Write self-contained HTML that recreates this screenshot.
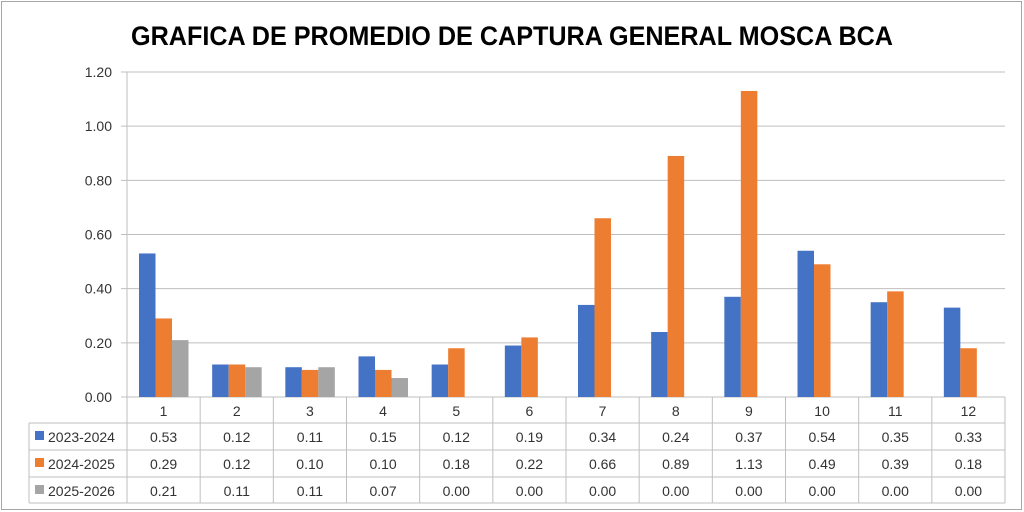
<!DOCTYPE html>
<html><head><meta charset="utf-8"><style>
html,body{margin:0;padding:0;background:#fff}
svg{display:block;font-family:"Liberation Sans",sans-serif}
</style></head><body>
<svg id="c" width="1024" height="512" xmlns="http://www.w3.org/2000/svg"></svg>
<script>
const d=[[0.53,0.12,0.11,0.15,0.12,0.19,0.34,0.24,0.37,0.54,0.35,0.33],
[0.29,0.12,0.10,0.10,0.18,0.22,0.66,0.89,1.13,0.49,0.39,0.18],
[0.21,0.11,0.11,0.07,0,0,0,0,0,0,0,0]];
const cols=['#4472C4','#ED7D31','#A5A5A5'],names=['2023-2024','2024-2025','2025-2026'];
const L=127,R=1005,T=72,B=397,cw=(R-L)/12,sc=(B-T)/1.2;
let s='<rect x="1.5" y="1.5" width="1020" height="508" fill="#fff" stroke="#a6a6a6"/>';
s+='<text x="131" y="45" font-size="27" font-weight="bold" textLength="762" lengthAdjust="spacingAndGlyphs">GRAFICA DE PROMEDIO DE CAPTURA GENERAL MOSCA BCA</text>';
for(let i=0;i<=6;i++){const y=B-i*0.2*sc;
 s+=`<line x1="${L-6}" x2="${R}" y1="${y}" y2="${y}" stroke="#bfbfbf"/>`;
 s+=`<text x="112" y="${y+5}" font-size="14" text-anchor="end" fill="#333">${(i*0.2).toFixed(2)}</text>`;}
for(let c=0;c<12;c++){const g=L+c*cw+12;
 for(let k=0;k<3;k++){const v=d[k][c];if(!v)continue;const h=v*sc;
  s+=`<rect x="${g+k*16.5}" y="${B-h}" width="16.5" height="${h}" fill="${cols[k]}"/>`;}}
// table
const rows=[423,450,477,503];
s+=`<line x1="${L}" x2="${L}" y1="${T}" y2="${B}" stroke="#bfbfbf"/>`;
for(let c=0;c<=12;c++){const x=L+c*cw;s+=`<line x1="${x}" x2="${x}" y1="${B}" y2="503" stroke="#bfbfbf"/>`;}
s+=`<line x1="29" x2="29" y1="423" y2="503" stroke="#bfbfbf"/>`;
rows.forEach(y=>s+=`<line x1="29" x2="${R}" y1="${y}" y2="${y}" stroke="#bfbfbf"/>`);
for(let c=0;c<12;c++){const x=L+c*cw+cw/2;
 s+=`<text x="${x}" y="416" font-size="14" text-anchor="middle" fill="#333">${c+1}</text>`;
 for(let k=0;k<3;k++)s+=`<text x="${x}" y="${rows[k]+19}" font-size="14" text-anchor="middle" fill="#333">${d[k][c].toFixed(2)}</text>`;}
for(let k=0;k<3;k++){const y=rows[k];
 s+=`<rect x="35" y="${y+8}" width="9" height="9" fill="${cols[k]}"/>`;
 s+=`<text x="48" y="${y+19}" font-size="14" fill="#333">${names[k]}</text>`;}
document.getElementById('c').innerHTML=s;
</script>
</body></html>
